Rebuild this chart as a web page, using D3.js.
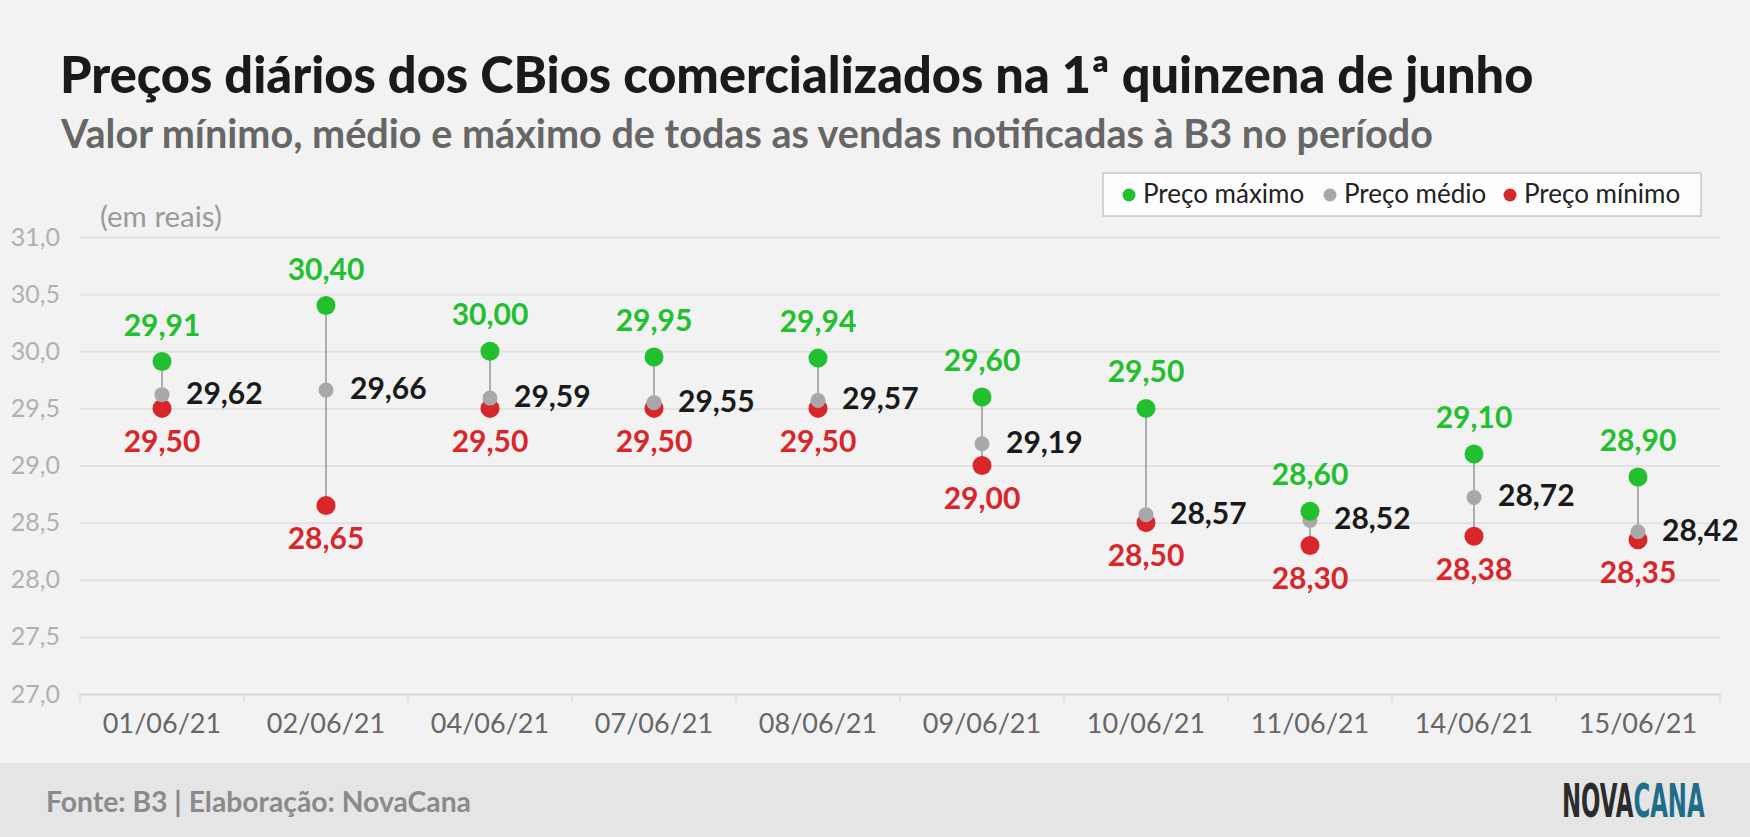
<!DOCTYPE html>
<html lang="pt">

<head>
    <meta charset="UTF-8">
    <title>Preços diários dos CBios</title>
    <script src="https://cdn.jsdelivr.net/npm/d3@7"></script>
    <style>
        html, body { margin: 0; padding: 0; background: #f2f2f2; }
        svg { display: block; font-family: Lato, "Open Sans", sans-serif; }
    </style>
</head>

<body>
    <svg class="chart" width="1750" height="837"></svg>

    <script>
        // dados
        const dates = ['01/06/21', '02/06/21', '04/06/21', '07/06/21', '08/06/21',
            '09/06/21', '10/06/21', '11/06/21', '14/06/21', '15/06/21'];
        const maxPrice = [29.91, 30.40, 30.00, 29.95, 29.94, 29.60, 29.50, 28.60, 29.10, 28.90];
        const avgPrice = [29.62, 29.66, 29.59, 29.55, 29.57, 29.19, 28.57, 28.52, 28.72, 28.42];
        const minPrice = [29.50, 28.65, 29.50, 29.50, 29.50, 29.00, 28.50, 28.30, 28.38, 28.35];
        const yTicks = [27, 27.5, 28, 28.5, 29, 29.5, 30, 30.5, 31];
        const legendItems = ['Preço máximo', 'Preço médio', 'Preço mínimo'];

        const green = '#22bf2f';
        const red = '#d8262a';
        const grey = '#a8a8a8';

        const svg = d3.select('.chart');
        const width = +svg.attr('width');
        const height = +svg.attr('height');
        const margin = { top: 237, bottom: 143, left: 80, right: 30 };
        const innerBottom = height - margin.bottom;
        const innerRight = width - margin.right;

        const fmt = v => v.toFixed(2).replace('.', ',');

        svg.append('rect')
            .attr('width', width).attr('height', height)
            .attr('fill', '#f2f2f2');

        // título e subtítulo
        svg.append('text')
            .attr('x', 60).attr('y', 93)
            .attr('font-size', 50.5).attr('font-weight', 900)
            .attr('fill', '#1a1a1a')
            .text('Preços diários dos CBios comercializados na 1ª quinzena de junho');

        svg.append('text')
            .attr('x', 61).attr('y', 148)
            .attr('font-size', 39.6).attr('font-weight', 700)
            .attr('fill', '#666')
            .text('Valor mínimo, médio e máximo de todas as vendas notificadas à B3 no período');

        svg.append('text')
            .attr('x', 100).attr('y', 227)
            .attr('font-size', 29.5)
            .attr('fill', '#9a9a9a')
            .text('(em reais)');

        // escalas
        const xScale = d3.scaleBand()
            .domain(dates)
            .range([margin.left, innerRight]);

        const yScale = d3.scaleLinear()
            .domain([27, 31])
            .range([innerBottom, margin.top]);

        // eixo y com linhas de grade
        const yAxis = svg.append('g')
            .attr('transform', `translate(${margin.left},0)`)
            .call(d3.axisLeft(yScale)
                .tickValues(yTicks)
                .tickSize(-(innerRight - margin.left))
                .tickPadding(20)
                .tickFormat(d => d.toFixed(1).replace('.', ',')));
        yAxis.select('.domain').remove();
        yAxis.selectAll('line').attr('stroke', '#e2e2e2').attr('stroke-width', 2);
        yAxis.selectAll('text')
            .attr('font-size', 25).attr('fill', '#b0b0b0')
            .attr('font-family', 'Lato');

        // eixo x
        const xAxis = svg.append('g')
            .attr('transform', `translate(0,${innerBottom})`)
            .call(d3.axisBottom(xScale).tickSize(0).tickPadding(20));
        xAxis.select('.domain').attr('stroke', '#dcdcdc').attr('stroke-width', 2);
        xAxis.selectAll('text')
            .attr('font-size', 27).attr('fill', '#666')
            .attr('font-family', 'Lato');

        const edges = dates.map(d => xScale(d)).concat([xScale.range()[1]]);
        svg.append('g').selectAll('line')
            .data(edges)
            .join('line')
            .attr('x1', d => d).attr('x2', d => d)
            .attr('y1', innerBottom).attr('y2', innerBottom + 8)
            .attr('stroke', '#dcdcdc').attr('stroke-width', 1.5);

        // dados por dia
        const rows = dates.map((d, i) => ({ date: d, max: maxPrice[i], avg: avgPrice[i], min: minPrice[i] }));
        const cx = d => xScale(d.date) + xScale.bandwidth() / 2;

        const g = svg.append('g');

        g.selectAll('.stem')
            .data(rows)
            .join('line')
            .attr('class', 'stem')
            .attr('x1', cx).attr('x2', cx)
            .attr('y1', d => yScale(d.max)).attr('y2', d => yScale(d.min))
            .attr('stroke', '#808080').attr('stroke-width', 1.2);

        g.selectAll('.dot-min')
            .data(rows)
            .join('circle')
            .attr('class', 'dot-min')
            .attr('cx', cx).attr('cy', d => yScale(d.min))
            .attr('r', 9.5).attr('fill', red);

        g.selectAll('.dot-avg')
            .data(rows)
            .join('circle')
            .attr('class', 'dot-avg')
            .attr('cx', cx).attr('cy', d => yScale(d.avg))
            .attr('r', 7.5).attr('fill', grey);

        g.selectAll('.dot-max')
            .data(rows)
            .join('circle')
            .attr('class', 'dot-max')
            .attr('cx', cx).attr('cy', d => yScale(d.max))
            .attr('r', 9.5).attr('fill', green);

        // rótulos
        g.selectAll('.lbl-max')
            .data(rows)
            .join('text')
            .attr('class', 'lbl-max')
            .attr('x', cx).attr('y', d => yScale(d.max) - 26)
            .attr('text-anchor', 'middle')
            .attr('font-size', 30).attr('font-weight', 700)
            .attr('fill', green)
            .text(d => fmt(d.max));

        g.selectAll('.lbl-min')
            .data(rows)
            .join('text')
            .attr('class', 'lbl-min')
            .attr('x', cx).attr('y', d => yScale(d.min) + 43.5)
            .attr('text-anchor', 'middle')
            .attr('font-size', 30).attr('font-weight', 700)
            .attr('fill', red)
            .text(d => fmt(d.min));

        g.selectAll('.lbl-avg')
            .data(rows)
            .join('text')
            .attr('class', 'lbl-avg')
            .attr('x', d => cx(d) + 24).attr('y', d => yScale(d.avg) + 9)
            .attr('font-size', 30).attr('font-weight', 700)
            .attr('fill', '#1a1a1a')
            .text(d => fmt(d.avg));

        // legenda
        const legend = svg.append('g');
        legend.append('rect')
            .attr('x', 1103).attr('y', 173)
            .attr('width', 598).attr('height', 43)
            .attr('fill', '#fdfdfd')
            .attr('stroke', '#c8c8c8').attr('stroke-width', 1.5);

        const legendX = [1129, 1330, 1510];
        const legendColors = [green, grey, red];
        legendItems.forEach((name, i) => {
            legend.append('circle')
                .attr('cx', legendX[i]).attr('cy', 195)
                .attr('r', 6.5).attr('fill', legendColors[i]);
            legend.append('text')
                .attr('x', legendX[i] + 14).attr('y', 203)
                .attr('font-size', 26).attr('fill', '#222')
                .text(name);
        });

        // rodapé
        svg.append('rect')
            .attr('x', 0).attr('y', 763)
            .attr('width', width).attr('height', height - 763)
            .attr('fill', '#e5e5e5');

        svg.append('text')
            .attr('x', 46).attr('y', 812)
            .attr('font-size', 28.3).attr('font-weight', 700)
            .attr('fill', '#8a8a8a')
            .text('Fonte: B3 | Elaboração: NovaCana');

        // logotipo: fonte estreita esticada na vertical
        const logo = svg.append('text')
            .attr('transform', 'translate(1562,817) scale(0.875,1.6)')
            .attr('font-family', '"Liberation Sans Narrow", "DejaVu Sans Condensed", sans-serif')
            .attr('font-size', 29).attr('font-weight', 700);
        logo.append('tspan').attr('fill', '#2b2b2b').text('NOVA');
        logo.append('tspan').attr('fill', '#1f6d89').text('CANA');
    </script>
</body>

</html>
